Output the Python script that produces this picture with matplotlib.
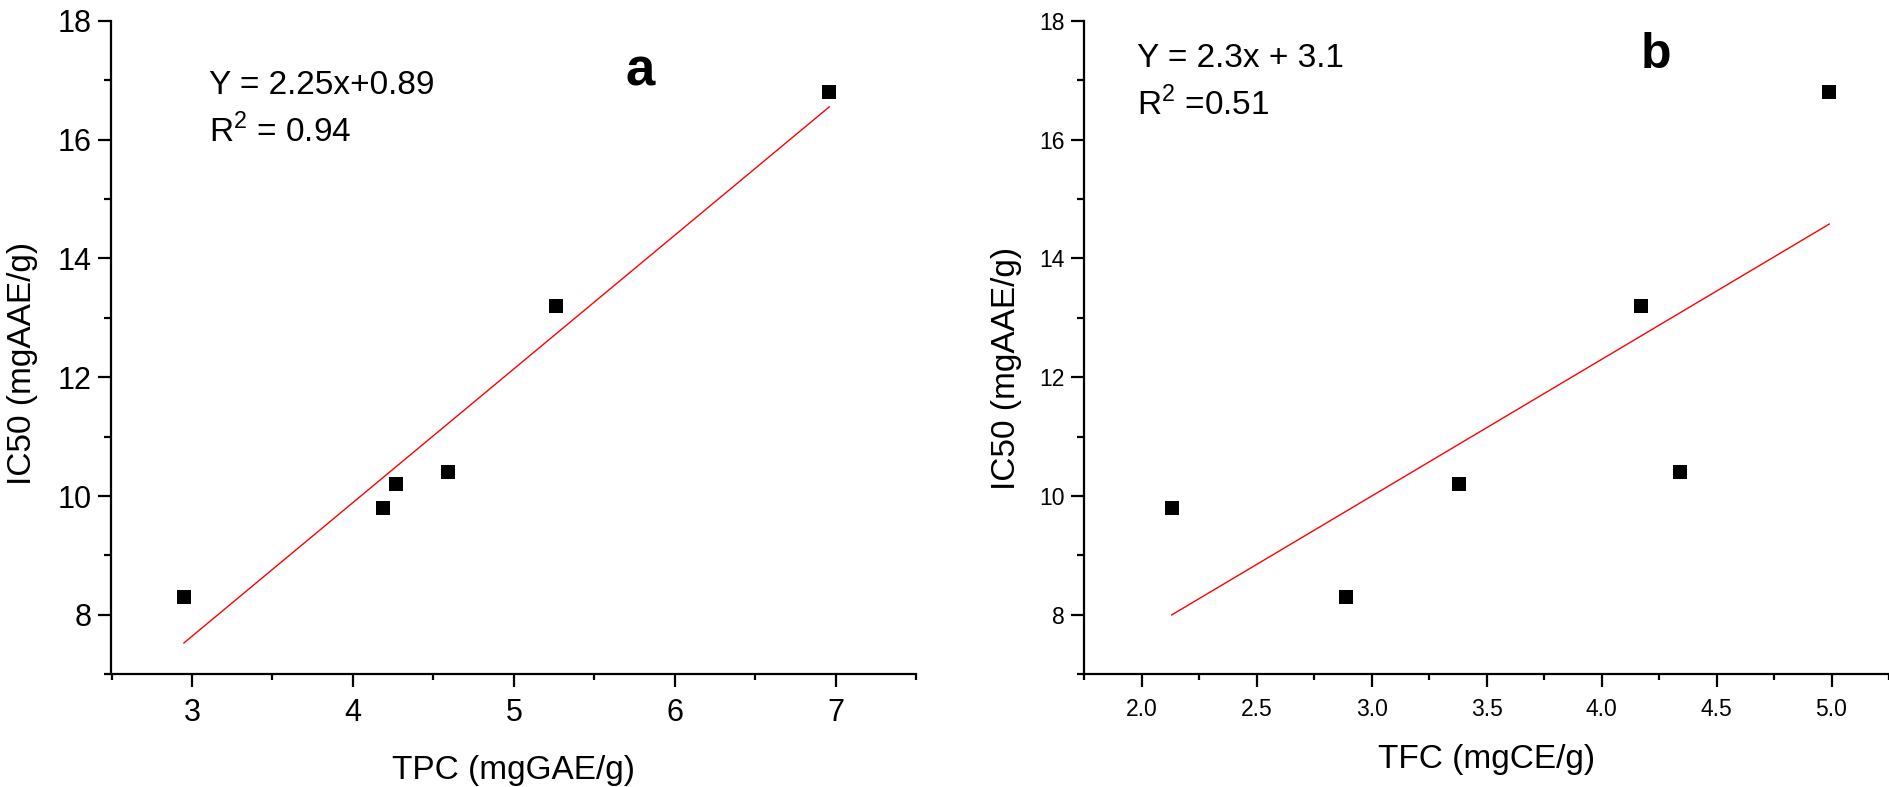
import matplotlib
matplotlib.use('Agg')
import matplotlib.pyplot as plt
from matplotlib.ticker import MultipleLocator, FormatStrFormatter

plt.rcParams['font.family'] = ['Liberation Sans', 'DejaVu Sans']

# ---- data ----
ic50 = [8.3, 9.8, 10.2, 10.4, 13.2, 16.8]
tpc = [2.95, 4.19, 4.27, 4.59, 5.26, 6.96]
tfc = [2.89, 2.13, 3.38, 4.34, 4.17, 4.99]

slope_a, intercept_a = 2.25, 0.89
slope_b, intercept_b = 2.3, 3.1

eq_a = 'Y = 2.25x+0.89'
r2_a = r'R$^{\mathregular{2}}$ = 0.94'
eq_b = 'Y = 2.3x + 3.1'
r2_b = r'R$^{\mathregular{2}}$ =0.51'

xlabel_a = 'TPC (mgGAE/g)'
xlabel_b = 'TFC (mgCE/g)'
ylabel = 'IC50 (mgAAE/g)'

W, H = 1890, 787
fig = plt.figure(figsize=(W / 100, H / 100), dpi=100)

ax1 = fig.add_axes([111.5 / W, 1 - 674.3 / H, 804.7 / W, 653.6 / H])
ax2 = fig.add_axes([1084.3 / W, 1 - 674.3 / H, 804.7 / W, 653.6 / H])


def style(ax, xlim, xmaj, xmin, tick_fs, xfmt=None):
    ax.set_xlim(*xlim)
    ax.set_ylim(7, 18)
    for s in ('top', 'right'):
        ax.spines[s].set_visible(False)
    for s in ('left', 'bottom'):
        ax.spines[s].set_linewidth(1.6)
    ax.xaxis.set_major_locator(MultipleLocator(xmaj))
    ax.xaxis.set_minor_locator(MultipleLocator(xmin))
    ax.yaxis.set_major_locator(MultipleLocator(2))
    ax.yaxis.set_minor_locator(MultipleLocator(1))
    if xfmt:
        ax.xaxis.set_major_formatter(FormatStrFormatter(xfmt))
    ax.tick_params(axis='both', which='major', direction='out', length=9.4,
                   width=1.6, labelsize=tick_fs)
    ax.tick_params(axis='x', which='major', pad=8)
    ax.tick_params(axis='y', which='major', pad=5)
    ax.tick_params(axis='x', which='minor', direction='out', length=4.5, width=1.6)
    ax.tick_params(axis='y', which='minor', direction='out', length=5, width=1.6)


style(ax1, (2.5, 7.5), 1, 0.5, 22)
style(ax2, (1.75, 5.25), 0.5, 0.25, 16.5, '%.1f')

# scatter points
ax1.plot(tpc, ic50, 's', color='black', markersize=10.3, mew=0, clip_on=False)
ax2.plot(tfc, ic50, 's', color='black', markersize=10.3, mew=0, clip_on=False)

# fit lines
xa = [min(tpc), max(tpc)]
ax1.plot(xa, [slope_a * v + intercept_a for v in xa], color='red', lw=1.0)
xb = [min(tfc), max(tfc)]
ax2.plot(xb, [slope_b * v + intercept_b for v in xb], color='red', lw=1.0)

# axis labels
ax1.set_xlabel(xlabel_a, fontsize=24, va='baseline')
ax1.xaxis.set_label_coords(0.5, -0.1602)
ax2.set_xlabel(xlabel_b, fontsize=24, va='baseline')
ax2.xaxis.set_label_coords(0.5, -0.1434)

ax1.set_ylabel(ylabel, fontsize=24, va='baseline', ha='center')
ax1.yaxis.set_label_coords(-0.1004, 0.475)
ax2.set_ylabel(ylabel, fontsize=24, va='baseline', ha='center')
ax2.yaxis.set_label_coords(-0.0861, 0.468)

# annotations
fig.text(209 / W, 1 - 94 / H, eq_a, fontsize=24, va='baseline')
fig.text(209 / W, 1 - 141.7 / H, r2_a, fontsize=24, va='baseline')
fig.text(1137 / W, 1 - 67 / H, eq_b, fontsize=24, va='baseline')
fig.text(1137 / W, 1 - 115 / H, r2_b, fontsize=24, va='baseline')

fig.text(640 / W, 1 - 85 / H, 'a', fontsize=38, fontweight='bold',
         ha='center', va='baseline')
fig.text(1656 / W, 1 - 68 / H, 'b', fontsize=36, fontweight='bold',
         ha='center', va='baseline')

fig.savefig('out.png', dpi=100)
